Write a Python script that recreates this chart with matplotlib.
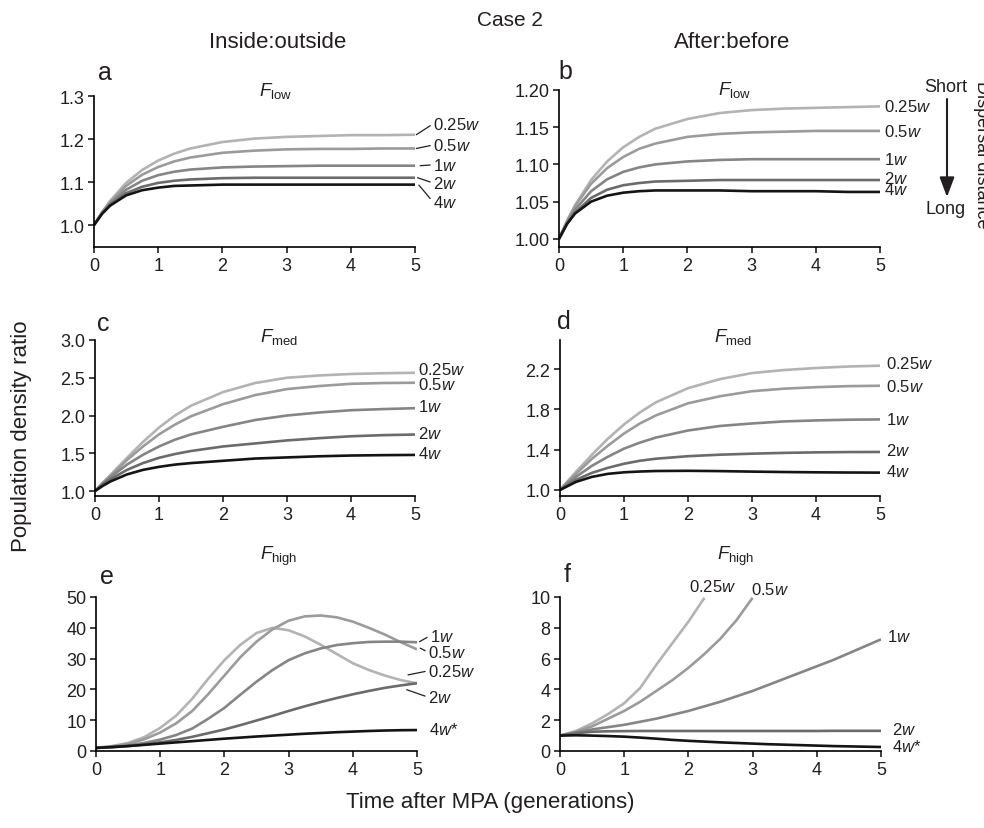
import matplotlib
matplotlib.use('Agg')
import matplotlib.pyplot as plt

plt.rcParams['font.family'] = 'Liberation Sans'
plt.rcParams['mathtext.fontset'] = 'custom'
plt.rcParams['mathtext.rm'] = 'Liberation Sans'
plt.rcParams['mathtext.it'] = 'Liberation Sans:italic'
plt.rcParams['axes.linewidth'] = 1.2
plt.rcParams['text.color'] = '#231f20'

# dispersal distances (short -> long) and their grey shades
dispersal = ['0.25', '0.5', '1', '2', '4']
shades = ['#b3b3b3', '#9b9b9b', '#858585', '#6b6b6b', '#141414']

# time grids (generations)
t_sat = [0, 0.125, 0.25, 0.5, 0.75, 1, 1.25, 1.5, 2, 2.5, 3, 3.5, 4, 4.5, 5]
t_high = [0, 0.25, 0.5, 0.75, 1, 1.25, 1.5, 1.75, 2, 2.25, 2.5, 2.75, 3,
          3.25, 3.5, 3.75, 4, 4.25, 4.5, 4.75, 5]

# a: inside:outside, F_low
in_low = [
    [1.000, 1.030, 1.056, 1.098, 1.128, 1.150, 1.166, 1.178, 1.193, 1.201, 1.205, 1.207, 1.209, 1.209, 1.210],
    [1.000, 1.029, 1.053, 1.091, 1.117, 1.135, 1.148, 1.157, 1.168, 1.173, 1.176, 1.177, 1.177, 1.178, 1.178],
    [1.000, 1.028, 1.050, 1.082, 1.103, 1.116, 1.124, 1.129, 1.134, 1.136, 1.137, 1.138, 1.138, 1.138, 1.138],
    [1.000, 1.027, 1.047, 1.074, 1.089, 1.098, 1.103, 1.106, 1.109, 1.110, 1.110, 1.110, 1.110, 1.110, 1.110],
    [1.000, 1.026, 1.045, 1.069, 1.081, 1.087, 1.091, 1.092, 1.094, 1.094, 1.094, 1.094, 1.094, 1.094, 1.094],
]
# b: after:before, F_low
ab_low = [
    [1.000, 1.024, 1.045, 1.079, 1.104, 1.123, 1.137, 1.148, 1.161, 1.169, 1.173, 1.175, 1.176, 1.177, 1.178],
    [1.000, 1.024, 1.044, 1.074, 1.095, 1.110, 1.121, 1.128, 1.137, 1.141, 1.143, 1.144, 1.145, 1.145, 1.145],
    [1.000, 1.022, 1.039, 1.064, 1.080, 1.090, 1.096, 1.100, 1.104, 1.106, 1.107, 1.107, 1.107, 1.107, 1.107],
    [1.000, 1.020, 1.035, 1.055, 1.066, 1.072, 1.075, 1.077, 1.078, 1.079, 1.079, 1.079, 1.079, 1.079, 1.079],
    [1.000, 1.020, 1.034, 1.050, 1.058, 1.062, 1.064, 1.065, 1.065, 1.065, 1.064, 1.064, 1.064, 1.063, 1.063],
]
# c: inside:outside, F_med
in_med = [
    [1.00, 1.11, 1.22, 1.44, 1.65, 1.84, 2.00, 2.13, 2.31, 2.43, 2.50, 2.53, 2.55, 2.56, 2.566],
    [1.00, 1.11, 1.21, 1.41, 1.59, 1.75, 1.88, 1.99, 2.15, 2.27, 2.35, 2.39, 2.42, 2.43, 2.434],
    [1.00, 1.10, 1.19, 1.35, 1.48, 1.59, 1.68, 1.75, 1.85, 1.94, 2.00, 2.04, 2.07, 2.085, 2.097],
    [1.00, 1.09, 1.16, 1.28, 1.37, 1.44, 1.49, 1.53, 1.59, 1.63, 1.67, 1.70, 1.725, 1.74, 1.748],
    [1.00, 1.07, 1.13, 1.22, 1.28, 1.32, 1.35, 1.37, 1.40, 1.43, 1.445, 1.46, 1.47, 1.475, 1.478],
]
# d: after:before, F_med
ab_med = [
    [1.00, 1.09, 1.18, 1.35, 1.51, 1.65, 1.77, 1.87, 2.01, 2.10, 2.16, 2.19, 2.21, 2.225, 2.233],
    [1.00, 1.085, 1.16, 1.31, 1.44, 1.56, 1.66, 1.74, 1.86, 1.93, 1.98, 2.005, 2.02, 2.03, 2.034],
    [1.00, 1.07, 1.13, 1.24, 1.33, 1.41, 1.47, 1.52, 1.59, 1.635, 1.66, 1.68, 1.69, 1.697, 1.70],
    [1.00, 1.05, 1.10, 1.17, 1.22, 1.26, 1.29, 1.31, 1.335, 1.35, 1.36, 1.368, 1.373, 1.376, 1.377],
    [1.00, 1.04, 1.08, 1.13, 1.16, 1.175, 1.183, 1.188, 1.19, 1.187, 1.182, 1.178, 1.175, 1.173, 1.172],
]
# e: inside:outside, F_high
in_high = [
    [1.0, 1.6, 2.6, 4.5, 7.5, 11.5, 17.0, 23.5, 29.5, 34.5, 38.3, 40.0, 39.2, 37.2, 34.5, 31.5, 28.5, 26.3, 24.5, 23.0, 22.0],
    [1.0, 1.5, 2.3, 3.8, 6.0, 9.0, 13.0, 18.5, 24.5, 30.5, 35.5, 39.5, 42.3, 43.7, 44.0, 43.4, 42.0, 40.0, 37.8, 35.3, 33.0],
    [1.0, 1.3, 1.8, 2.6, 3.7, 5.2, 7.3, 10.5, 14.0, 18.3, 22.5, 26.3, 29.5, 31.7, 33.3, 34.4, 35.0, 35.4, 35.5, 35.5, 35.3],
    [1.0, 1.2, 1.6, 2.1, 2.8, 3.6, 4.6, 5.8, 7.0, 8.4, 9.9, 11.4, 13.0, 14.5, 15.9, 17.2, 18.4, 19.5, 20.5, 21.3, 22.0],
    [1.0, 1.3, 1.6, 2.0, 2.4, 2.8, 3.2, 3.6, 4.0, 4.35, 4.7, 5.0, 5.3, 5.6, 5.85, 6.1, 6.3, 6.5, 6.65, 6.75, 6.8],
]
# f: after:before, F_high (short-dispersal curves leave the axes at 10)
ab_high = [
    [1.0, 1.3, 1.8, 2.4, 3.1, 4.1, 5.6, 7.0, 8.4, 9.95],
    [1.0, 1.25, 1.6, 2.1, 2.6, 3.2, 3.9, 4.6, 5.4, 6.3, 7.3, 8.5, 9.95],
    [1.0, 1.2, 1.4, 1.55, 1.7, 1.9, 2.1, 2.35, 2.6, 2.9, 3.2, 3.55, 3.9, 4.3, 4.7, 5.1, 5.5, 5.9, 6.35, 6.8, 7.25],
    [1.0, 1.15, 1.25, 1.28, 1.29, 1.3, 1.3, 1.3, 1.3, 1.3, 1.3, 1.3, 1.3, 1.3, 1.3, 1.3, 1.3, 1.31, 1.31, 1.31, 1.31],
    [1.0, 1.02, 1.0, 0.97, 0.93, 0.87, 0.8, 0.72, 0.66, 0.61, 0.56, 0.52, 0.48, 0.44, 0.41, 0.38, 0.35, 0.32, 0.3, 0.28, 0.26],
]

W, H = 984, 829
LABEL_SIZE = 12
fig = plt.figure(figsize=(W / 100, H / 100), dpi=100)


def rect(left, top, right, bottom):
    # pixel box -> figure fraction
    return [left / W, 1 - bottom / H, (right - left) / W, (bottom - top) / H]


def make_axes(box, ylim, yticks, fmt, letter, letter_xy, sub, sub_xy):
    ax = fig.add_axes(rect(*box))
    ax.set_xlim(0, 5)
    ax.set_ylim(*ylim)
    ax.set_xticks(range(6))
    ax.set_yticks(yticks)
    ax.set_yticklabels([fmt.format(v) for v in yticks])
    for s in ['top', 'right']:
        ax.spines[s].set_visible(False)
    ax.tick_params(direction='out', length=4, width=1.2, labelsize=13, pad=3, colors='#231f20')
    fig.text(letter_xy[0] / W, 1 - letter_xy[1] / H, letter, fontsize=18, ha='center', va='center')
    fig.text(sub_xy[0] / W, 1 - sub_xy[1] / H, r'$F_{\mathrm{%s}}$' % sub, fontsize=13.5,
             ha='center', va='center')
    return ax


def draw(ax, t, series):
    for vals, c in zip(series, shades):
        ax.plot(t[:len(vals)], vals, color=c, lw=1.9, solid_capstyle='butt')


def lab(d, star=False):
    return d + r'$w$' + ('*' if star else '')


def leader_labels(ax, names, text_xy, point_xy):
    for d, txy, xy in zip(names, text_xy, point_xy):
        ax.annotate(lab(d), xy=xy, xytext=txy, fontsize=LABEL_SIZE, ha='left', va='center',
                    annotation_clip=False,
                    arrowprops=dict(arrowstyle='-', lw=0.9, color='#231f20',
                                    shrinkA=0, shrinkB=0, relpos=(0, 0.5)))


# --- a
ax = make_axes((94, 97, 415, 248), (0.949, 1.3), [1.0, 1.1, 1.2, 1.3], '{:.1f}',
               'a', (105, 73), 'low', (276, 91))
draw(ax, t_sat, in_low)
leader_labels(ax, dispersal,
              [(5.28, 1.235), (5.28, 1.186), (5.28, 1.140), (5.28, 1.098), (5.28, 1.054)],
              [(5.02, 1.210), (5.02, 1.178), (5.08, 1.138), (5.04, 1.110), (5.06, 1.093)])

# --- b
ax = make_axes((559, 91, 880, 248), (0.989, 1.2), [1.00, 1.05, 1.10, 1.15, 1.20], '{:.2f}',
               'b', (565, 72), 'low', (735, 90))
draw(ax, t_sat, ab_low)
for d, y in zip(dispersal, [1.178, 1.145, 1.107, 1.0815, 1.0675]):
    ax.text(5.07, y, lab(d), fontsize=LABEL_SIZE, ha='left', va='center')

# --- c
ax = make_axes((95, 341, 415, 497), (0.934, 3.0), [1.0, 1.5, 2.0, 2.5, 3.0], '{:.1f}',
               'c', (103, 324), 'med', (279, 337))
draw(ax, t_sat, in_med)
for d, y in zip(dispersal, [2.62, 2.416, 2.128, 1.774, 1.509]):
    ax.text(5.05, y, lab(d), fontsize=LABEL_SIZE, ha='left', va='center')

# --- d
ax = make_axes((560, 341, 880, 497), (0.94, 2.488), [1.0, 1.4, 1.8, 2.2], '{:.1f}',
               'd', (564, 322), 'med', (733, 337))
draw(ax, t_sat, ab_med)
for d, y in zip(dispersal, [2.26, 2.034, 1.70, 1.40, 1.19]):
    ax.text(5.09, y, lab(d), fontsize=LABEL_SIZE, ha='left', va='center')

# --- e
ax = make_axes((96, 598, 417, 752), (0, 50), [0, 10, 20, 30, 40, 50], '{:.0f}',
               'e', (107, 577), 'high', (279, 556))
draw(ax, t_high, in_high)
leader_labels(ax, dispersal[:4],
              [(5.17, 26.0), (5.17, 32.1), (5.2, 37.4), (5.17, 17.5)],
              [(4.86, 24.7), (5.05, 33.4), (5.04, 35.5), (4.84, 19.9)])
ax.text(5.19, 7.1, lab('4', True), fontsize=LABEL_SIZE, ha='left', va='center')

# --- f
ax = make_axes((560, 598, 881, 752), (0, 10), [0, 2, 4, 6, 8, 10], '{:.0f}',
               'f', (567, 575), 'high', (736, 556))
draw(ax, t_high, ab_high)
ax.text(2.37, 10.7, lab('0.25'), fontsize=LABEL_SIZE, ha='center', va='center')
ax.text(3.27, 10.55, lab('0.5'), fontsize=LABEL_SIZE, ha='center', va='center')
ax.text(5.09, 7.47, lab('1'), fontsize=LABEL_SIZE, ha='left', va='center')
ax.text(5.17, 1.43, lab('2'), fontsize=LABEL_SIZE, ha='left', va='center')
ax.text(5.17, 0.3, lab('4', True), fontsize=LABEL_SIZE, ha='left', va='center')

# --- titles and shared labels
fig.text(510 / W, 1 - 21 / H, 'Case 2', fontsize=15, ha='center', va='center')
fig.text(278 / W, 1 - 42 / H, 'Inside:outside', fontsize=16, ha='center', va='center')
fig.text(732 / W, 1 - 42 / H, 'After:before', fontsize=16, ha='center', va='center')
fig.text(22 / W, 1 - 436 / H, 'Population density ratio', fontsize=16, rotation=90,
         ha='center', va='center')
fig.text(490 / W, 1 - 803 / H, 'Time after MPA (generations)', fontsize=16,
         ha='center', va='center')

# dispersal-distance key (the rotated title runs off the right edge, as in the source)
fig.text(946 / W, 1 - 87 / H, 'Short', fontsize=13, ha='center', va='center')
fig.text(946 / W, 1 - 209 / H, 'Long', fontsize=13, ha='center', va='center')
fig.add_artist(matplotlib.patches.FancyArrowPatch(
    (947 / W, 1 - 100 / H), (947 / W, 1 - 198 / H), transform=fig.transFigure,
    arrowstyle='-|>,head_length=12,head_width=4.5', lw=1.5, color='#231f20',
    mutation_scale=1, shrinkA=0, shrinkB=0))
fig.text(973 / W, 1 - 155 / H, 'Dispersal distance', fontsize=13, rotation=-90,
         ha='left', va='center')

plt.savefig('out.png', dpi=100)
plt.close()
